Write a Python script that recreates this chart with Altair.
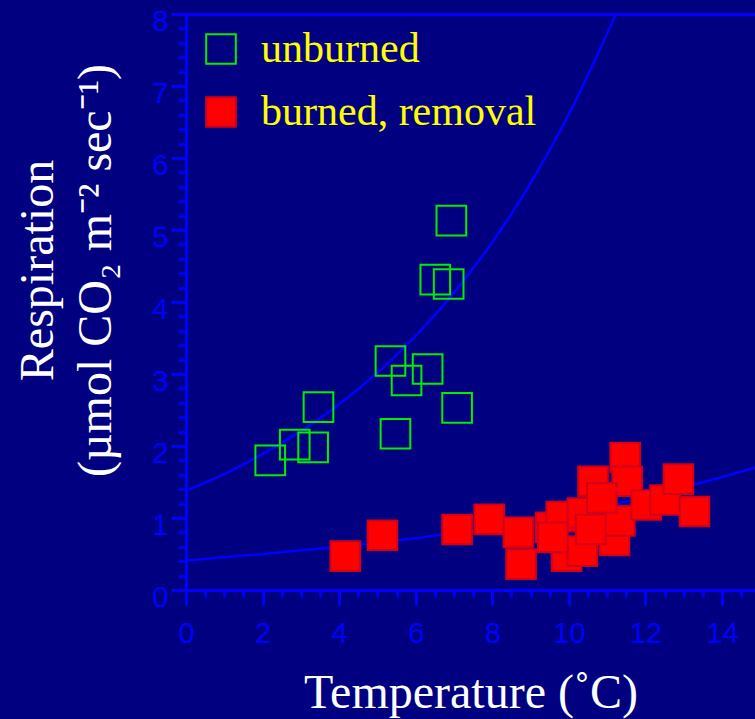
import altair as alt
import pandas as pd

# Soil respiration vs. temperature, unburned plots (open squares)
unburned_temp = [2.20, 2.84, 3.32, 3.46, 5.34, 5.76, 6.31, 5.47, 7.08, 6.93, 6.51, 6.86]
unburned_resp = [1.80, 2.02, 1.98, 2.54, 3.18, 2.91, 3.07, 2.17, 2.53, 5.13, 4.31, 4.25]

# burned plots with removal (filled squares)
burned_temp = [4.16, 5.13, 7.08, 7.92, 8.68, 8.75, 9.52, 9.80, 9.94, 10.35, 10.35, 11.19,
               11.33, 11.47, 10.63, 11.52, 12.02, 12.51, 12.86, 13.28, 9.58, 10.86, 10.57]
burned_resp = [0.47, 0.76, 0.84, 0.98, 0.80, 0.36, 0.87, 1.02, 0.47, 1.07, 0.54, 0.69,
               0.96, 1.84, 1.51, 1.51, 1.18, 1.25, 1.54, 1.09, 0.73, 1.28, 0.84]

# exponential fit curves, sampled along temperature
fit_unburned_t = [0, 1, 2, 3, 4, 5, 6, 7, 8, 9, 10, 11, 11.23]
fit_unburned_r = [1.38, 1.61, 1.89, 2.21, 2.58, 3.02, 3.53, 4.13, 4.83, 5.65, 6.61, 7.73, 8.0]
fit_burned_t = [0, 2, 4, 6, 8, 10, 12, 14, 14.86]
fit_burned_r = [0.41, 0.50, 0.60, 0.72, 0.88, 1.07, 1.29, 1.57, 1.70]

groups = ["unburned", "burned, removal"]
x_major = [0, 2, 4, 6, 8, 10, 12, 14]
y_major = [0, 1, 2, 3, 4, 5, 6, 7, 8]
x_minor = [i * 0.5 for i in range(30) if i % 4]
y_minor = [round(i * 0.2, 1) for i in range(41) if i % 5]

points = pd.DataFrame({
    "temp": unburned_temp + burned_temp,
    "resp": unburned_resp + burned_resp,
    "group": [groups[0]] * len(unburned_temp) + [groups[1]] * len(burned_temp),
})
fits = pd.DataFrame({
    "temp": fit_unburned_t + fit_burned_t,
    "resp": fit_unburned_r + fit_burned_r,
    "fit": ["u"] * len(fit_unburned_t) + ["b"] * len(fit_burned_t),
})

BLUE = "#0000FF"
W, H = 569, 576


def xs():
    return alt.Scale(domain=[0, 14.86], nice=False, zero=False)


def ys():
    return alt.Scale(domain=[0, 8], nice=False, zero=False)


axis_style = dict(domainColor=BLUE, tickColor=BLUE, labelColor=BLUE, grid=False,
                  domainWidth=3, tickWidth=3, labelFont="Liberation Sans",
                  labelFontSize=29, labelFlush=False, labelOverlap=False,
                  titleFont="Liberation Serif", titleFontSize=48,
                  titleColor="#FFFFFF", titleFontWeight="normal")

# fitted curves carry the main axes
curves = alt.Chart(fits).mark_line(color=BLUE, strokeWidth=2.5, clip=True,
                                   interpolate="monotone").encode(
    x=alt.X("temp:Q", scale=xs(), axis=alt.Axis(
        orient="bottom", values=x_major, tickSize=15, labelPadding=14,
        title="Temperature (˚C)", titleX=W / 2, titleY=117,
        titleAlign="center", titleBaseline="alphabetic", **axis_style)),
    y=alt.Y("resp:Q", scale=ys(), axis=alt.Axis(
        orient="left", values=y_major, tickSize=15, labelPadding=3, labelOffset=7,
        title=["Respiration", "(µmol CO₂ m⁻² sec⁻¹)"], titleX=-134, titleY=256,
        titleAngle=270, titleAlign="center", titleBaseline="alphabetic",
        titleLineHeight=58, **axis_style)),
    detail="fit:N",
)

# measured plots
marks = alt.Chart(points).mark_point(shape="square", size=880, strokeWidth=2,
                                     opacity=1).encode(
    x=alt.X("temp:Q", scale=xs(), axis=None),
    y=alt.Y("resp:Q", scale=ys(), axis=None),
    fill=alt.Fill("group:N", scale=alt.Scale(domain=groups, range=["transparent", "#FF0000"]),
                  legend=alt.Legend(title=None)),
    stroke=alt.Stroke("group:N", scale=alt.Scale(domain=groups, range=["#00EE00", "#D0001A"]),
                      legend=alt.Legend(title=None)),
)

# minor tick marks on both axes
minor = alt.Chart(points).mark_point(opacity=0).encode(
    x=alt.X("temp:Q", scale=xs(), axis=alt.Axis(
        orient="bottom", values=x_minor, tickSize=7, labels=False, domain=False,
        title=None, grid=False, tickColor=BLUE, tickWidth=2.5)),
    y=alt.Y("resp:Q", scale=ys(), axis=alt.Axis(
        orient="left", values=y_minor, tickSize=8, labels=False, domain=False,
        title=None, grid=False, tickColor=BLUE, tickWidth=2.5)),
)

# top frame line
frame = alt.Chart(points).mark_point(opacity=0).encode(
    x=alt.X("temp:Q", scale=xs(), axis=alt.Axis(
        orient="top", ticks=False, labels=False, title=None, grid=False,
        domainColor=BLUE, domainWidth=3)),
    y=alt.Y("resp:Q", scale=ys(), axis=None),
)

chart = alt.layer(curves, marks, minor, frame).resolve_scale(
    x="independent", y="independent"
).properties(
    width=W, height=H,
    background="#000080",
    autosize=alt.AutoSizeParams(type="none"),
    padding={"left": 186, "top": 14, "right": 0, "bottom": 129},
).configure_view(stroke=None).configure_legend(
    orient="none", legendX=14, legendY=14, padding=0, direction="vertical",
    symbolType="square", symbolSize=880, symbolStrokeWidth=2,
    labelFont="Liberation Serif", labelFontSize=42, labelColor="#FFFF00",
    labelOffset=19, rowPadding=21, labelLimit=600,
)

chart.save("out.html", embed_options={"renderer": "svg", "actions": False})
